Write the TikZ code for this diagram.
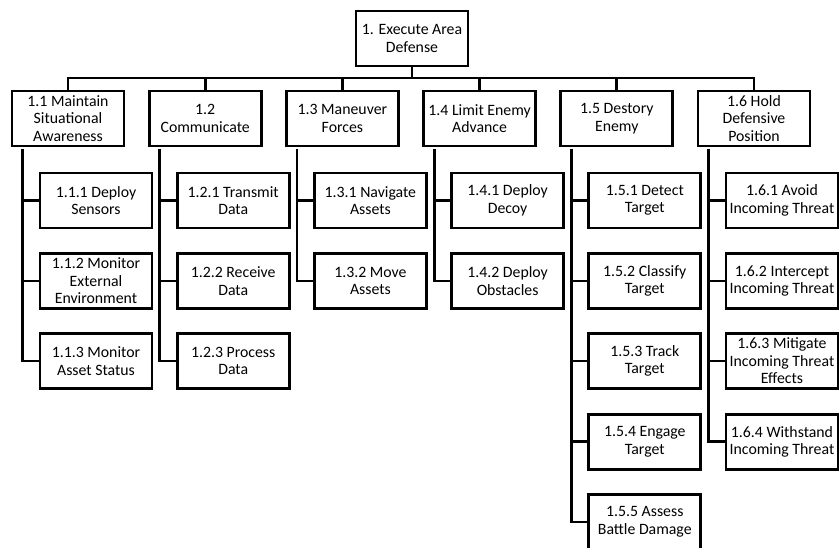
\documentclass[tikz,border=0pt]{standalone}
\usepackage{fontspec}
\setmainfont{Carlito}
\begin{document}
\begin{tikzpicture}[x=1pt,y=-1pt,
  box/.style={draw=black, line width=2.8pt, fill=white, rectangle,
    minimum width=112pt, minimum height=55pt, inner sep=1pt, align=center,
    font=\fontsize{15.8}{17.5}\selectfont},
  wire/.style={draw=black, line width=2.8pt, line join=miter}]
\useasboundingbox[fill=white] (0,0) rectangle (839,548);

% top-level function
\node[box] (r) at (412,38.5) {1. Execute Area\\Defense};
\coordinate (bus) at (412,78);

% first-level functions
\node[box] (a) at (68,118.5)    {1.1 Maintain\\Situational\\Awareness};
\node[box] (b) at (205.2,118.5) {1.2\\Communicate};
\node[box] (c) at (342.4,118.5) {1.3 Maneuver\\Forces};
\node[box] (d) at (479.6,118.5) {1.4 Limit Enemy\\Advance};
\node[box] (e) at (616.8,118.5) {1.5 Destory\\Enemy};
\node[box] (f) at (754,118.5)   {1.6 Hold\\Defensive\\Position};

% second-level functions
\node[box] (a1) at (96,200.5)    {1.1.1 Deploy\\Sensors};
\node[box] (a2) at (96,281)      {1.1.2 Monitor\\External\\Environment};
\node[box] (a3) at (96,361)      {1.1.3 Monitor\\Asset Status};
\node[box] (b1) at (233.2,200.5) {1.2.1 Transmit\\Data};
\node[box] (b2) at (233.2,281)   {1.2.2 Receive\\Data};
\node[box] (b3) at (233.2,361)   {1.2.3 Process\\Data};
\node[box] (c1) at (370.4,200.5) {1.3.1 Navigate\\Assets};
\node[box] (c2) at (370.4,281)   {1.3.2 Move\\Assets};
\node[box] (d1) at (507.6,200.5) {1.4.1 Deploy\\Decoy};
\node[box] (d2) at (507.6,281)   {1.4.2 Deploy\\Obstacles};
\node[box] (e1) at (644.8,200.5) {1.5.1 Detect\\Target};
\node[box] (e2) at (644.8,281)   {1.5.2 Classify\\Target};
\node[box] (e3) at (644.8,361)   {1.5.3 Track\\Target};
\node[box] (e4) at (644.8,441.7) {1.5.4 Engage\\Target};
\node[box] (e5) at (644.8,522)   {1.5.5 Assess\\Battle Damage};
\node[box] (f1) at (782,200.5)   {1.6.1 Avoid\\Incoming Threat};
\node[box] (f2) at (782,281)     {1.6.2 Intercept\\Incoming Threat};
\node[box] (f3) at (782,361)     {1.6.3 Mitigate\\Incoming Threat\\Effects};
\node[box] (f4) at (782,441.7)   {1.6.4 Withstand\\Incoming Threat};

% bus from the top-level function to each first-level function
\draw[wire] (r.south) -- (bus);
\foreach \p in {a,b,c,d,e,f}
  \draw[wire] (\p.north) |- (bus);

% trunks down to the second-level functions
\foreach \p/\kids in {a/{a1,a2,a3}, b/{b1,b2,b3}, c/{c1,c2}, d/{d1,d2},
                      e/{e1,e2,e3,e4,e5}, f/{f1,f2,f3,f4}}
  \foreach \k in \kids
    \draw[wire] ([xshift=12pt,yshift=-1.4pt]\p.south west) |- (\k.west);
\end{tikzpicture}
\end{document}
